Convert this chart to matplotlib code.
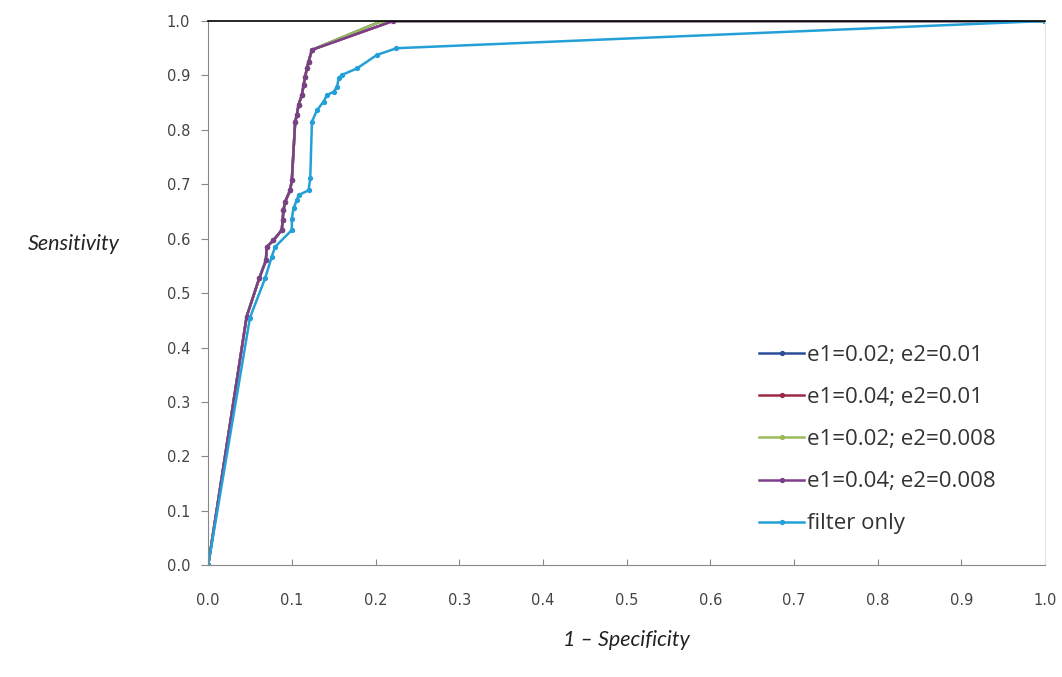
import matplotlib.pyplot as plt

# ROC-Daten
fpr_e04 = [0.0, 0.046, 0.061, 0.069, 0.070, 0.078, 0.088, 0.089, 0.090, 0.092,
           0.098, 0.100, 0.104, 0.106, 0.108, 0.112, 0.114, 0.116, 0.118, 0.120,
           0.124, 0.221, 1.0]
tpr_e04 = [0.0, 0.457, 0.527, 0.560, 0.585, 0.597, 0.616, 0.634, 0.653, 0.668,
           0.689, 0.708, 0.815, 0.827, 0.846, 0.864, 0.882, 0.898, 0.913, 0.925,
           0.947, 1.0, 1.0]

fpr_e02 = [0.0, 0.046, 0.061, 0.069, 0.070, 0.078, 0.088, 0.089, 0.090, 0.092,
           0.098, 0.100, 0.104, 0.106, 0.108, 0.112, 0.114, 0.116, 0.118, 0.120,
           0.124, 0.2075, 1.0]
tpr_e02 = [0.0, 0.457, 0.527, 0.560, 0.585, 0.597, 0.616, 0.634, 0.653, 0.668,
           0.689, 0.708, 0.815, 0.827, 0.846, 0.864, 0.882, 0.898, 0.913, 0.925,
           0.947, 1.0, 1.0]

fpr_filter = [0.0, 0.050, 0.068, 0.076, 0.080, 0.100, 0.100, 0.102, 0.106, 0.108,
              0.120, 0.122, 0.124, 0.130, 0.138, 0.142, 0.150, 0.154, 0.156, 0.160,
              0.178, 0.2015, 0.225, 1.0]
tpr_filter = [0.0, 0.455, 0.527, 0.567, 0.585, 0.616, 0.637, 0.656, 0.671, 0.680,
              0.689, 0.711, 0.815, 0.836, 0.852, 0.864, 0.870, 0.879, 0.895, 0.901,
              0.913, 0.9375, 0.950, 1.0]

series = [
    ("e1=0.02; e2=0.01", fpr_e02, tpr_e02, "#2D4F9A"),
    ("e1=0.04; e2=0.01", fpr_e04, tpr_e04, "#9C2A45"),
    ("e1=0.02; e2=0.008", fpr_e02, tpr_e02, "#9BBB59"),
    ("e1=0.04; e2=0.008", fpr_e04, tpr_e04, "#7A3F88"),
    ("filter only", fpr_filter, tpr_filter, "#23A0D8"),
]

fig = plt.figure(figsize=(10.62, 6.77), dpi=100)
ax = fig.add_axes([0.196, 0.165, 0.788, 0.804])

for label, x, y, col in series:
    ax.plot(x, y, color=col, linewidth=1.8, marker="o", markersize=2.8,
            label=label)

ax.set_xlim(0, 1)
ax.set_ylim(0, 1)
ax.set_xticks([i / 10 for i in range(11)])
ax.set_yticks([i / 10 for i in range(11)])
ax.set_xticklabels([f"{i / 10:.1f}" for i in range(11)])
ax.set_yticklabels([f"{i / 10:.1f}" for i in range(11)])
ax.tick_params(axis="x", direction="in", length=4, pad=20, colors="#888888",
               labelcolor="#444444", labelsize=10.5)
ax.tick_params(axis="y", direction="out", length=5, pad=8, colors="#888888",
               labelcolor="#444444", labelsize=10.5)

ax.spines["left"].set_color("#888888")
ax.spines["bottom"].set_color("#888888")
ax.spines["top"].set_color("black")
ax.spines["top"].set_linewidth(1.2)
ax.spines["right"].set_color("#e6e6e6")

ax.set_xlabel("1 – Specificity", fontsize=15.5, style="italic", family="Lato",
              color="#222222", labelpad=16)
ax.set_ylabel("Sensitivity", fontsize=15.5, style="italic", family="Lato",
              color="#222222", rotation=0, ha="center", va="center")
ax.yaxis.set_label_coords(-0.16, 0.59)

leg = ax.legend(loc="lower right", bbox_to_anchor=(0.965, 0.02), frameon=False,
                labelspacing=0.95, handlelength=2.0, handletextpad=0.15,
                prop={"family": "Open Sans", "size": 16})
for t in leg.get_texts():
    t.set_color("#333333")

fig.savefig("out.png", dpi=100)
